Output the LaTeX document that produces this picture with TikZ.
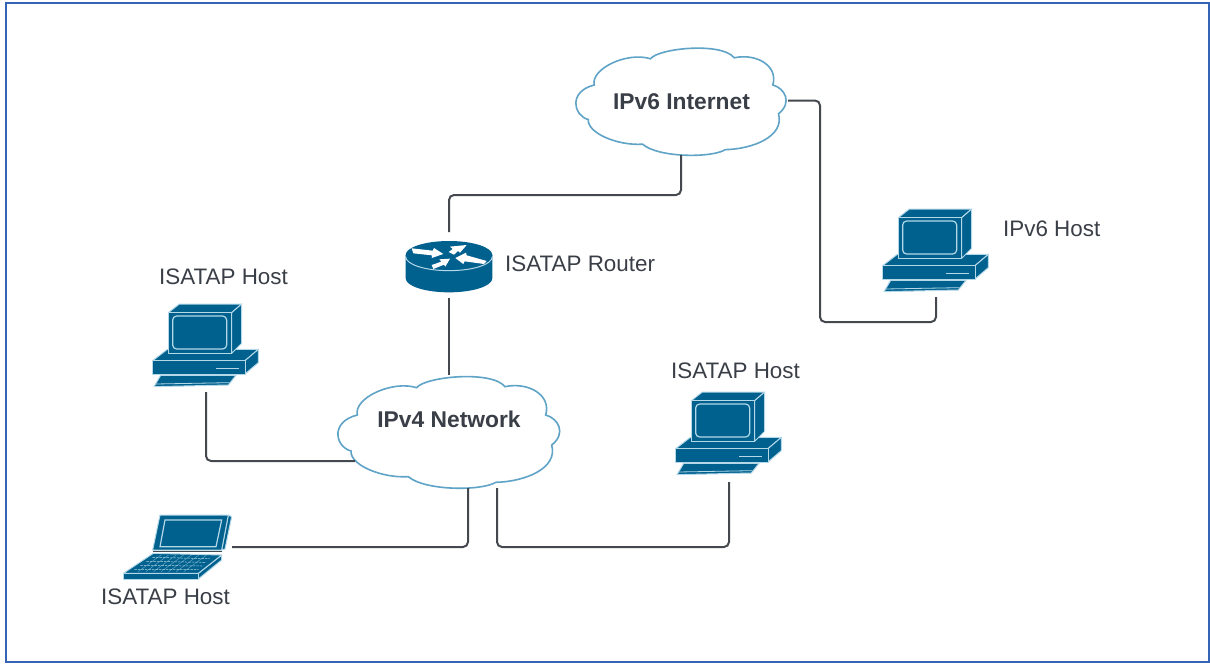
\documentclass[tikz,border=0pt]{standalone}
\usepackage{fontspec}
\setmainfont{Liberation Sans}
\usetikzlibrary{arrows.meta}
\definecolor{ciscoblue}{HTML}{00618F}
\definecolor{iconline}{HTML}{B5D8E8}
\definecolor{wirecol}{HTML}{45494F}
\definecolor{textcol}{HTML}{3A3F47}
\definecolor{cloudline}{HTML}{5FA3C7}
\definecolor{framecol}{HTML}{3563B5}
\newcommand{\cloudoutline}{%
  \draw[cloudline,line width=1.6pt,fill=white]
      (275,68) .. controls (300,35) and (500,15) .. (540,65)
      .. controls (610,50) and (680,90) .. (662,150)
      .. controls (700,160) and (725,205) .. (680,240)
      .. controls (700,310) and (600,350) .. (512,352)
      .. controls (470,378) and (300,378) .. (250,335)
      .. controls (170,340) and (75,300) .. (78,258)
      .. controls (30,245) and (15,170) .. (97,150)
      .. controls (85,100) and (200,45) .. (275,68) -- cycle;}
\tikzset{
  x=1pt,y=-1pt,
  wire/.style={draw=wirecol,line width=2pt,rounded corners=5pt},
  holder/.style={inner sep=0pt,outer sep=0pt,draw=none},
  lbl/.style={inner sep=0pt,font=\fontsize{22.4}{24}\selectfont,text=textcol},
  cloudlbl/.style={inner sep=0pt,font=\bfseries\fontsize{22.8}{26}\selectfont,text=textcol},
  part/.style={fill=ciscoblue,draw=iconline,line width=1pt,line join=round},
  pcicon/.pic={
    \begin{scope}[scale=1/3]
    % base
    \draw[part] (68,212) -- (112,178) -- (385,178) -- (345,212) -- cycle;
    \draw[part] (345,212) -- (385,178) -- (385,218) -- (345,252) -- cycle;
    \draw[part] (68,212) rectangle (345,252);
    \draw[iconline,line width=1.5pt] (258,236) -- (328,236);
    % keyboard
    \draw[part] (92,256) -- (318,256) -- (295,285) -- (72,290) -- cycle;
    \draw[iconline,line width=0.8pt] (76,282) -- (298,278);
    % monitor
    \draw[part] (115,68) -- (148,42) -- (335,42) -- (305,68) -- cycle;
    \draw[part] (305,68) -- (335,42) -- (335,160) -- (305,190) -- cycle;
    \draw[part] (115,68) rectangle (305,190);
    \draw[iconline,line width=1.2pt,rounded corners=4pt] (128,78) rectangle (290,177);
    \end{scope}
  },
  routericon/.pic={
    \begin{scope}[scale=1/3]
    \fill[ciscoblue] (77,75) -- (77,145) arc[start angle=180,end angle=0,x radius=130,y radius=42]
       -- (337,75) -- cycle;
    \fill[ciscoblue] (207,75) ellipse[x radius=130,y radius=42];
    \draw[iconline,line width=1pt] (77,80) arc[start angle=180,end angle=0,x radius=130,y radius=42];
    \fill[white] (95,55) -- (158,62) -- (162,54) -- (190,72) -- (155,84) -- (156,76) -- (100,70) -- cycle;
    \fill[white] (320,93) -- (260,76) -- (258,68) -- (226,84) -- (250,102) -- (254,94) -- (312,102) -- cycle;
    \fill[white] (260,45) -- (210,50) -- (218,57) -- (206,66) -- (222,74) -- (234,63) -- (240,68) -- cycle;
    \fill[white] (210,86) -- (178,88) -- (184,95) -- (155,105) -- (160,117) -- (192,104) -- (196,110) -- cycle;
    \end{scope}
  },
  laptopicon/.pic={
    \begin{scope}[scale=1/3]
    \draw[part] (355,30) -- (365,35) -- (345,132) -- (335,135) -- cycle;
    \draw[part] (150,30) -- (355,30) -- (335,135) -- (128,135) -- cycle;
    \draw[iconline,line width=1.2pt] (165,45) -- (335,45) -- (318,125) -- (150,125) -- cycle;
    \draw[wirecol,line width=0.8pt] (128,140) -- (335,140);
    \draw[part] (265,205) -- (335,150) -- (335,165) -- (265,222) -- cycle;
    \draw[part] (40,205) rectangle (265,222);
    \draw[part] (130,145) -- (335,150) -- (265,205) -- (40,205) -- cycle;
    \foreach \t in {0.2,0.4,0.6,0.8}
      \draw[iconline,line width=0.5pt,dash pattern=on 2.5pt off 1pt]
        ({130-90*\t+15},{145+60*\t}) -- ({320-55*\t-10},{150+55*\t});
    \foreach \t in {0.12,0.24,0.36,0.48,0.6,0.72,0.84}
      \draw[iconline,line width=0.4pt,opacity=0.6]
        ({130+190*\t},150) -- ({62+190*\t},200);
    \end{scope}
  },
}
\begin{document}
\begin{tikzpicture}
\useasboundingbox (0,0) rectangle (1210,664);
\fill[white] (0,0) rectangle (1210,664);
\draw[framecol,line width=2pt] (6,3) rectangle (1209,662);

% clouds
\begin{scope}[shift={(563.6,37)},xscale=0.316,yscale=0.32]
  \cloudoutline
\end{scope}
\begin{scope}[shift={(325,365)},scale=1/3]
  \cloudoutline
\end{scope}

% anchors (invisible holders sized to clouds and icons)
\node[holder,minimum width=214pt,minimum height=109pt] (v6) at (681,100.5) {};
\node[holder,minimum width=226pt,minimum height=113pt] (v4) at (449,431) {};
\node[holder,minimum width=88pt,minimum height=66pt] (router) at (449,265) {};
\node[holder,minimum width=108pt,minimum height=88pt] (hostA) at (206,348) {};
\node[holder,minimum width=108pt,minimum height=90pt] (hostB) at (729,437) {};
\node[holder,minimum width=108pt,minimum height=88pt] (hostC) at (936,253) {};
\node[holder,minimum width=109pt,minimum height=64pt] (laptop) at (177.5,547) {};

% icons
\pic at (380,230) {routericon};
\pic at (130,290) {pcicon};
\pic at (653,378) {pcicon};
\pic at (860,195) {pcicon};
\pic at (110,505) {laptopicon};

% free ends and bends
\coordinate (bendTop) at (449,195);
\coordinate (bendRight) at (820,322);
\coordinate (v4west) at (355,461);
\coordinate (v4south1) at (468,488);
\coordinate (v4south2) at (497,488);

% connectors
\draw[wire] (v6.south) |- (bendTop) -- (router.north);
\draw[wire] (v6.east) -| (bendRight) -| (hostC.south);
\draw[wire] (router.south) -- (v4.north);
\draw[wire] (hostA.south) |- (v4west);
\draw[wire] (laptop.east) -| (v4south1);
\draw[wire] (hostB.south) |- (v4south2 |- laptop.east) -- (v4south2);

% labels
\node[cloudlbl] (v6text) at (681.5,102) {IPv6 Internet};
\node[cloudlbl] (v4text) at (449,419) {IPv4 Network};
\node[lbl,anchor=west] (rtext) at (505,264) {ISATAP Router};
\node[lbl] (atext) at (223.5,277) {ISATAP Host};
\node[lbl] (btext) at (735.5,371) {ISATAP Host};
\node[lbl,anchor=west] (ctext) at (1003,229) {IPv6 Host};
\node[lbl] (ltext) at (165.5,597) {ISATAP Host};
\end{tikzpicture}
\end{document}
